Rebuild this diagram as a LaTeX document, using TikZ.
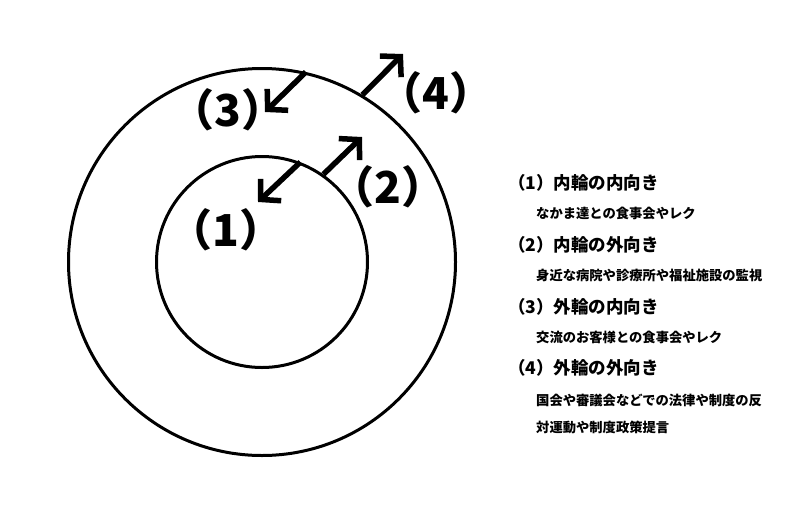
\documentclass[tikz,border=0pt]{standalone}
\usepackage{fontspec}
\newfontfamily\jpfont{Noto Sans CJK JP}
\usetikzlibrary{arrows.meta}
\tikzset{
  ring/.style={draw,circle,line width=3pt,inner sep=0pt},
  flow/.style={line width=5.5pt,-{Straight Barb[length=14pt,width=30pt]}},
  biglabel/.style={inner sep=0pt,font=\jpfont\bfseries\fontsize{44}{48}\selectfont},
  head/.style={anchor=west,inner sep=0pt,font=\jpfont\bfseries\fontsize{17.5}{20}\selectfont},
  item/.style={anchor=west,inner sep=0pt,font=\jpfont\bfseries\fontsize{13.3}{16}\selectfont},
}
\begin{document}
\begin{tikzpicture}[x=1pt,y=-1pt]
\useasboundingbox[fill=white] (0,0) rectangle (800,517);
\node[ring,minimum size=387pt] (outer) at (262,262) {};
\node[ring,minimum size=211pt] (inner) at (262,262) {};
\coordinate (t_1) at (258,202);
\draw[flow] (inner.69) -- (t_1);
\coordinate (t_2) at (362,137);
\draw[flow] (inner.55) -- (t_2);
\coordinate (t_3) at (265,112);
\draw[flow] (outer.77) -- (t_3);
\coordinate (t_4) at (403,54);
\draw[flow] (outer.59) -- (t_4);
\node[biglabel] (l_1) at (226,230) {（1）};
\node[biglabel] (l_2) at (388,187) {（2）};
\node[biglabel] (l_3) at (228,110) {（3）};
\node[biglabel] (l_4) at (436,93) {（4）};
\node[head] (h_1) at (508,183) {（1）内輪の内向き};
\node[item] (d_1) at (536,213) {なかま達との食事会やレク};
\node[head] (h_2) at (508,245) {（2）内輪の外向き};
\node[item] (d_2) at (536,275) {身近な病院や診療所や福祉施設の監視};
\node[head] (h_3) at (508,307) {（3）外輪の内向き};
\node[item] (d_3) at (536,337) {交流のお客様との食事会やレク};
\node[head] (h_4) at (508,368) {（4）外輪の外向き};
\node[item] (d_4) at (536,400) {国会や審議会などでの法律や制度の反};
\node[item] (d_5) at (536,427) {対運動や制度政策提言};
\end{tikzpicture}
\end{document}
